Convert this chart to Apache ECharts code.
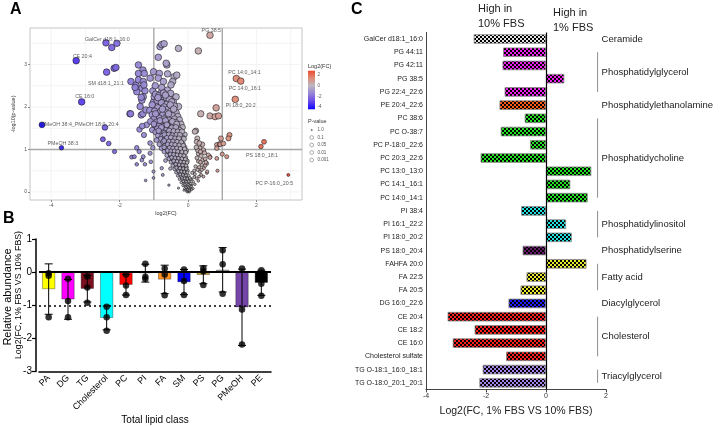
<!DOCTYPE html>
<html>
<head>
<meta charset="utf-8">
<script src="https://cdn.jsdelivr.net/npm/echarts@6/dist/echarts.min.js"></script>
<style>
  html, body { margin: 0; padding: 0; background: #fff; }
  #main { width: 720px; height: 426px; }
</style>
</head>
<body>
<div id="main"></div>
<script>
// ---- panel A: volcano, [log2(FC), -log10(p)] ----
const volcanoOuter = [
  [-4.27, 1.58], [-3.70, 1.04], [-3.27, 3.09], [-3.11, 2.12],
  [-2.40, 3.51], [-2.23, 3.40], [-2.08, 3.50],
  [-2.38, 2.82], [-2.16, 2.91], [-2.11, 2.93],
  [-2.43, 1.52], [-2.49, 1.24], [-2.32, 1.14], [-2.15, 0.95],
  [-1.70, 1.84], [-1.67, 2.60], [-1.65, 0.82], [-1.50, 1.04], [-1.57, 0.83], [-1.50, 0.65],
  [-1.31, 0.83], [-1.35, 0.75], [-1.43, 0.95], [-1.26, 0.65], [-1.24, 0.27], [-1.01, 0.33],
  [-1.01, 0.48], [-1.09, 0.71], [-1.42, 1.47], [-1.29, 1.34], [-1.11, 1.15], [-1.11, 0.91],
  [-1.37, 1.81], [-1.21, 1.58], [-1.34, 1.55], [-1.03, 1.04], [-0.74, 0.40], [-0.77, 0.56],
  [-0.56, 0.16], [-0.28, 0.09]
];
const volcanoUpper = [
  [-0.82, 3.42], [-0.77, 3.47], [-0.70, 3.49], [-0.28, 3.38], [0.30, 3.32], [-0.87, 3.17],
  [-1.45, 2.99], [-1.32, 2.87], [-1.45, 2.79], [-1.28, 2.79], [-1.01, 2.83], [-0.84, 2.79],
  [-0.62, 2.99], [-0.64, 3.03], [-0.60, 2.78], [-0.41, 2.71], [-0.33, 2.75], [-1.11, 2.68],
  [-0.87, 2.68], [-1.52, 2.52], [-1.45, 2.64], [-1.31, 2.60], [-1.35, 2.44], [-1.26, 2.38],
  [-1.03, 2.38], [-0.96, 2.50], [-0.77, 2.36], [-0.62, 2.32], [-0.53, 2.28], [-0.35, 2.24],
  [-0.43, 2.12], [-0.28, 2.01], [-0.72, 2.20], [-0.82, 2.12], [-1.01, 2.12], [-1.31, 2.24],
  [-1.35, 2.16], [-1.50, 2.36], [-1.29, 2.52], [-1.55, 2.46], [-1.37, 2.23], [-1.40, 2.01],
  [-1.68, 1.84], [-1.32, 1.84], [-1.23, 1.93], [-0.99, 2.24], [-0.77, 2.46], [-0.60, 2.40],
  [-0.51, 2.32], [-0.72, 2.60], [-0.45, 2.60], [-0.50, 2.52]
];
const volcanoRight = [
  [0.64, 3.69], [1.41, 2.67], [1.54, 2.61], [1.38, 2.18], [0.82, 1.98], [0.64, 1.79],
  [0.79, 1.77], [0.89, 1.79], [0.37, 1.84], [1.21, 1.34], [0.96, 1.26], [0.84, 1.11],
  [0.92, 1.13], [2.22, 1.18], [2.13, 1.07], [1.00, 0.89], [1.13, 0.83], [0.64, 0.83],
  [0.86, 0.50], [0.55, 0.45], [2.93, 0.40], [0.23, 1.44], [0.84, 1.03], [0.94, 1.12],
  [1.03, 1.14], [1.18, 1.26], [0.84, 0.79],
  [0.20, 1.42], [0.27, 1.26], [0.25, 1.18], [0.35, 1.03], [0.45, 0.99], [0.59, 0.87],
  [0.64, 0.81], [0.55, 0.67], [0.40, 0.64], [0.56, 0.48], [0.35, 0.48], [0.25, 0.32],
  [0.15, 0.24], [0.11, 0.16], [0.45, 0.36], [0.30, 0.90], [0.38, 0.85], [0.42, 0.75],
  [0.30, 0.72], [0.50, 0.78], [0.22, 0.60], [0.32, 0.58], [0.46, 0.56], [0.20, 0.42],
  [0.38, 0.40], [0.15, 0.08], [0.10, 0.30], [0.28, 0.98], [0.42, 1.12], [0.33, 1.15],
  [0.48, 0.92], [0.18, 0.50], [0.07, 0.30], [0.12, 0.45],
  [0.26, 0.80], [0.36, 0.70], [0.28, 0.52], [0.40, 0.52], [0.18, 0.35], [0.32, 0.36],
  [0.20, 0.18], [0.30, 0.26], [0.50, 0.62], [0.24, 1.05], [0.36, 0.95], [0.52, 0.70]
];
const volcanoCore = [
  [-0.95, 2.30], [-0.85, 2.27], [-0.72, 2.33], [-0.64, 2.22], [-0.55, 2.18], [-0.90, 2.15],
  [-0.78, 2.10], [-0.62, 2.06], [-0.48, 2.12], [-1.05, 2.05], [-0.70, 2.00], [-0.40, 2.02],
  [-0.88, 1.98], [-0.58, 1.95],
  [-1.12, 1.92], [-0.98, 1.90], [-0.80, 1.90], [-0.68, 1.88], [-0.50, 1.90], [-0.35, 1.87],
  [-1.05, 1.82], [-0.90, 1.80], [-0.74, 1.82], [-0.62, 1.78], [-0.46, 1.80], [-0.30, 1.78],
  [-0.84, 1.74], [-0.70, 1.72], [-0.56, 1.70], [-0.40, 1.72], [-1.00, 1.72], [-0.25, 1.70],
  [-1.10, 1.66], [-0.92, 1.65], [-0.78, 1.64], [-0.64, 1.63], [-0.50, 1.62], [-0.36, 1.64],
  [-0.20, 1.60], [-0.98, 1.57], [-0.85, 1.56], [-0.70, 1.55], [-0.58, 1.55], [-0.44, 1.56],
  [-0.30, 1.54], [-0.16, 1.52], [-0.90, 1.49], [-0.76, 1.48], [-0.63, 1.47], [-0.52, 1.48],
  [-0.38, 1.47], [-0.25, 1.46], [-1.05, 1.46],
  [-0.95, 1.41], [-0.82, 1.40], [-0.70, 1.39], [-0.58, 1.40], [-0.46, 1.38], [-0.33, 1.39],
  [-0.20, 1.37], [-0.10, 1.35], [-0.88, 1.33], [-0.75, 1.32], [-0.63, 1.31], [-0.52, 1.32],
  [-0.40, 1.30], [-0.28, 1.30], [-0.16, 1.28], [-0.80, 1.25], [-0.68, 1.24], [-0.56, 1.24],
  [-0.45, 1.23], [-0.34, 1.22], [-0.22, 1.22], [-0.92, 1.22],
  [-0.74, 1.17], [-0.62, 1.16], [-0.50, 1.16], [-0.38, 1.15], [-0.27, 1.14], [-0.15, 1.13],
  [-0.84, 1.12], [-0.68, 1.09], [-0.56, 1.08], [-0.44, 1.08], [-0.33, 1.07], [-0.21, 1.06],
  [-0.10, 1.05], [-0.78, 1.03], [-0.62, 1.01], [-0.50, 1.00], [-0.39, 1.00], [-0.28, 0.99],
  [-0.16, 0.98], [-0.05, 0.97],
  [-0.70, 0.95], [-0.56, 0.93], [-0.45, 0.92], [-0.34, 0.91], [-0.23, 0.90], [-0.12, 0.89],
  [-0.62, 0.86], [-0.50, 0.85], [-0.39, 0.84], [-0.29, 0.83], [-0.18, 0.82], [-0.07, 0.81],
  [-0.56, 0.78], [-0.44, 0.77], [-0.34, 0.76], [-0.24, 0.75], [-0.13, 0.74], [-0.02, 0.73],
  [-0.66, 0.74],
  [-0.50, 0.70], [-0.39, 0.69], [-0.29, 0.68], [-0.19, 0.67], [-0.09, 0.66], [-0.45, 0.62],
  [-0.34, 0.61], [-0.24, 0.60], [-0.14, 0.59], [-0.04, 0.58], [-0.40, 0.54], [-0.30, 0.53],
  [-0.20, 0.52], [-0.10, 0.51], [-0.01, 0.50], [-0.52, 0.55],
  [-0.35, 0.46], [-0.26, 0.45], [-0.16, 0.44], [-0.07, 0.43], [-0.30, 0.38], [-0.21, 0.37],
  [-0.12, 0.36], [-0.03, 0.35], [-0.25, 0.30], [-0.17, 0.29], [-0.08, 0.28], [0.00, 0.27],
  [-0.20, 0.22], [-0.12, 0.21], [-0.04, 0.20], [0.04, 0.22],
  [-0.15, 0.15], [-0.08, 0.14], [-0.01, 0.13], [0.05, 0.15], [-0.10, 0.08], [-0.03, 0.07],
  [0.03, 0.08], [0.08, 0.10], [-0.05, 0.03], [0.01, 0.02], [0.06, 0.04], [-0.12, 0.04],
  [0.00, 0.00], [0.04, 0.00], [-0.03, 0.00]
];
const volcanoCoreFill = [
  [-0.88, 2.22], [-0.66, 2.28], [-0.52, 2.05], [-0.75, 1.95], [-0.95, 1.84], [-0.57, 1.84],
  [-0.42, 1.95], [-0.82, 1.68], [-0.66, 1.68], [-0.46, 1.66], [-0.33, 1.60], [-1.00, 1.60],
  [-0.62, 1.58], [-0.78, 1.52], [-0.48, 1.51], [-0.36, 1.52], [-0.55, 1.44], [-0.42, 1.43],
  [-0.30, 1.42], [-0.18, 1.42], [-0.86, 1.44], [-0.68, 1.35], [-0.56, 1.35], [-0.46, 1.33],
  [-0.34, 1.34], [-0.24, 1.34], [-0.62, 1.27], [-0.50, 1.28], [-0.38, 1.26], [-0.27, 1.26],
  [-0.12, 1.25], [-0.70, 1.20], [-0.56, 1.19], [-0.44, 1.19], [-0.32, 1.18], [-0.20, 1.17],
  [-0.60, 1.12], [-0.48, 1.12], [-0.38, 1.11], [-0.26, 1.10], [-0.14, 1.09], [-0.70, 1.05],
  [-0.54, 1.04], [-0.44, 1.03], [-0.33, 1.03], [-0.22, 1.02], [-0.10, 1.01], [-0.60, 0.97],
  [-0.50, 0.96], [-0.40, 0.96], [-0.30, 0.95], [-0.18, 0.94], [-0.07, 0.93], [-0.52, 0.89],
  [-0.42, 0.88], [-0.32, 0.87], [-0.22, 0.86], [-0.12, 0.85], [-0.48, 0.81], [-0.38, 0.80],
  [-0.28, 0.79], [-0.18, 0.78], [-0.08, 0.77], [-0.42, 0.73], [-0.32, 0.72], [-0.22, 0.71],
  [-0.12, 0.70], [-0.03, 0.69], [-0.36, 0.65], [-0.26, 0.64], [-0.16, 0.63], [-0.06, 0.62],
  [-0.34, 0.57], [-0.24, 0.56], [-0.14, 0.55], [-0.05, 0.54], [-0.28, 0.49], [-0.20, 0.48],
  [-0.11, 0.47], [-0.02, 0.46], [-0.23, 0.41], [-0.15, 0.40], [-0.06, 0.39], [0.02, 0.38],
  [-0.18, 0.33], [-0.10, 0.32], [-0.02, 0.31], [0.05, 0.33], [-0.14, 0.25], [-0.06, 0.24],
  [0.02, 0.25], [0.08, 0.20], [-0.09, 0.18], [0.00, 0.17], [0.09, 0.13], [-0.06, 0.10],
  [0.02, 0.11], [0.05, 0.06], [-0.02, 0.05], [0.10, 0.05], [0.03, 0.03]
];
const volcanoLabels = [
  [-2.36, 3.59, 'GalCer d18:1_16:0'],
  [-3.09, 3.18, 'CE 20:4'],
  [-2.40, 2.56, 'SM d18:1_21:1'],
  [-3.02, 2.24, 'CE 16:0'],
  [-3.16, 1.58, 'PMeOH 38:4_PMeOH 18:0_20:4'],
  [-3.66, 1.13, 'PMeOH 38:3'],
  [0.68, 3.79, 'PG 38:5'],
  [1.65, 2.82, 'PC 14:0_14:1'],
  [1.66, 2.44, 'PC 14:0_16:1'],
  [1.54, 2.03, 'PI 18:0_20:2'],
  [2.16, 0.85, 'PS 18:0_18:1'],
  [2.52, 0.20, 'PC P-16:0_20:5']
];
const volcanoXTicks = [-4, -2, 0, 2];
const volcanoYTicks = [0, 1, 2, 3];
const volcanoVGrid = [-4, -3, -2, 0, 2, 3];
const volcanoHGrid = [0, 0.5, 1.5, 2, 2.5, 3, 3.5];
const fcCutoffs = [-1, 1];
const pCutoff = [1];
const fcLegendTicks = ['2', '0', '-2', '-4'];
const pLegendTicks = ['1.0', '0.1', '0.05', '0.01', '0.001'];

// ---- panel B: total lipid class ----
const lipidClasses = ['PA', 'DG', 'TG', 'Cholesterol', 'PC', 'PI', 'FA', 'SM', 'PS', 'PG', 'PMeOH', 'PE'];
const classMeans = [-0.51, -0.82, -0.50, -1.38, -0.38, -0.03, -0.22, -0.30, -0.08, 0.07, -1.06, -0.32];
const classSD = [0.76, 0.60, 0.40, 0.36, 0.31, 0.27, 0.43, 0.38, 0.27, 0.67, 1.15, 0.38];
const classReps = [
  [-0.03, -0.11, -1.36], [-0.20, -0.87, -1.36], [-0.13, -0.46, -0.92], [-1.04, -1.36, -1.77],
  [-0.07, -0.40, -0.69], [0.25, -0.21, -0.14], [0.11, -0.07, -0.70], [0.08, -0.27, -0.69],
  [0.12, 0.03, -0.39], [0.66, 0.24, -0.65], [0.11, -1.13, -2.18], [0.06, -0.35, -0.71]
];
const classColors = ['#ffff00', '#ff00ff', '#7a0f1e', '#00ffff', '#ff0000', '#9e9e9e',
  '#ff9222', '#0000ff', '#c8a232', '#9e9e9e', '#7446a8', '#000000'];

// ---- panel C: individual species ----
const species = ['GalCer d18:1_16:0', 'PG 44:11', 'PG 42:11', 'PG 38:5', 'PG 22:4_22:6',
  'PE 20:4_22:6', 'PC 38:6', 'PC O-38:7', 'PC P-18:0_22:6', 'PC 20:3_22:6', 'PC 13:0_13:0',
  'PC 14:1_16:1', 'PC 14:0_14:1', 'PI 38:4', 'PI 16:1_22:2', 'PI 18:0_20:2', 'PS 18:0_20:4',
  'FAHFA 20:0', 'FA 22:5', 'FA 20:5', 'DG 16:0_22:6', 'CE 20:4', 'CE 18:2', 'CE 16:0',
  'Cholesterol sulfate', 'TG O-18:1_16:0_18:1', 'TG O-18:0_20:1_20:1'];
const speciesFC = [-2.41, -1.43, -1.45, 0.61, -1.38, -1.55, -0.71, -1.51, -0.53, -2.18, 1.51,
  0.81, 1.39, -0.83, 0.67, 0.86, -0.78, 1.35, -0.65, -0.85, -1.25, -3.28, -2.38, -3.11, -1.33,
  -2.11, -2.22];
const classGroups = [
  ['Ceramide', 0, 0], ['Phosphatidylglycerol', 1, 4], ['Phosphatidylethanolamine', 5, 5],
  ['Phosphatidycholine', 6, 12], ['Phosphatidylinositol', 13, 15], ['Phosphatidylserine', 16, 16],
  ['Fatty acid', 17, 19], ['Diacylglycerol', 20, 20], ['Cholesterol', 21, 24],
  ['Triacylglycerol', 25, 26]
];
const groupColors = ['#e4e4e4', '#ee22ee', '#ff5a10', '#22e022', '#22e0e0', '#6a1a6a',
  '#e8e830', '#2020ff', '#ff2020', '#a584e6'];

// colour ramp for log2(FC), like ggplot gradient2 (blue - grey - red)
const fcStops = [-4.3, -2.86, -1.42, 0.02, 1.46, 2.9];
const fcColors = ['#1208ff', '#6a4ae8', '#9686d6', '#bcb6bf', '#df8a74', '#ee4a2e'];

function checker(color) {
  const c = document.createElement('canvas');
  c.width = 4;
  c.height = 4;
  const g = c.getContext('2d');
  g.fillStyle = color;
  g.fillRect(0, 0, 4, 4);
  g.fillStyle = '#000';
  g.fillRect(0, 0, 2, 2);
  g.fillRect(2, 2, 2, 2);
  return { image: c, repeat: 'repeat' };
}

const volcanoData = volcanoOuter.concat(volcanoUpper, volcanoRight, volcanoCore, volcanoCoreFill);

const gridLineData = [];
volcanoVGrid.forEach(v => gridLineData.push([v, 0, 0]));
volcanoHGrid.forEach(v => gridLineData.push([0, v, 1]));
fcCutoffs.forEach(v => gridLineData.push([v, 0, 2]));
pCutoff.forEach(v => gridLineData.push([0, v, 3]));

const dotData = [];
classReps.forEach((reps, i) => reps.forEach(v => dotData.push([i, v])));

const groupOf = species.map((s, i) => classGroups.findIndex(g => i >= g[1] && i <= g[2]));

const chart = echarts.init(document.getElementById('main'), null, { renderer: 'canvas' });

const legendTop = 70.7, legendH = 38.6;
const gradTop = 2.8, gradBottom = -4.4;
const clamp01 = v => Math.max(0, Math.min(1, v));
const FONT = 'Liberation Sans, Arial, sans-serif';

const option = {
  animation: false,
  textStyle: { fontFamily: FONT },
  grid: [
    { left: 30, top: 28, width: 272, height: 172, show: true, borderColor: '#b5b5b5', borderWidth: 0.8 },
    { left: 39, top: 239, width: 232, height: 141 },
    { left: 426, top: 32.4, width: 180, height: 357 }
  ],
  xAxis: [
    {
      gridIndex: 0, type: 'value', min: -4.62, max: 3.33,
      axisLine: { show: false, onZero: false },
      axisTick: { show: true, length: 2, lineStyle: { color: '#888' }, customValues: volcanoXTicks },
      axisLabel: { fontSize: 5, color: '#555', margin: 3, customValues: volcanoXTicks },
      splitLine: { show: false },
      name: 'log2(FC)', nameLocation: 'middle', nameGap: 10,
      nameTextStyle: { fontSize: 5.5, color: '#333' }
    },
    {
      gridIndex: 1, type: 'category', data: lipidClasses,
      axisLine: { onZero: false, lineStyle: { color: '#000', width: 1.5 } },
      axisTick: { alignWithLabel: true, length: 4, lineStyle: { color: '#000', width: 1.2 } },
      axisLabel: { rotate: 45, fontSize: 9, color: '#000', margin: 5, interval: 0 },
      name: 'Total lipid class', nameLocation: 'middle', nameGap: 38,
      nameTextStyle: { fontSize: 10, color: '#000' }
    },
    {
      gridIndex: 2, type: 'value', min: -4, max: 2, interval: 2,
      axisLine: { show: true, onZero: false, lineStyle: { color: '#444' } },
      axisTick: { show: true, length: 3, lineStyle: { color: '#444' } },
      axisLabel: { fontSize: 7, color: '#333', margin: 3 },
      splitLine: { show: false },
      name: 'Log2(FC, 1% FBS VS 10% FBS)', nameLocation: 'middle', nameGap: 16,
      nameTextStyle: { fontSize: 10.5, color: '#222' }
    }
  ],
  yAxis: [
    {
      gridIndex: 0, type: 'value', min: -0.19, max: 3.86,
      axisLine: { show: false, onZero: false },
      axisTick: { show: true, length: 2, lineStyle: { color: '#888' }, customValues: volcanoYTicks },
      axisLabel: { fontSize: 5, color: '#555', margin: 3, customValues: volcanoYTicks },
      splitLine: { show: false },
      name: '-log10(p-value)', nameLocation: 'middle', nameGap: 14,
      nameTextStyle: { fontSize: 5.5, color: '#333' }
    },
    {
      gridIndex: 1, type: 'value', min: -3, max: 1, interval: 1, offset: 3,
      axisLine: { show: true, onZero: false, lineStyle: { color: '#000', width: 1.5 } },
      axisTick: { show: true, length: 4, lineStyle: { color: '#000', width: 1.2 } },
      axisLabel: { fontSize: 10, color: '#000', margin: 4 },
      splitLine: { show: false }
    },
    {
      gridIndex: 2, type: 'category', inverse: true, data: species,
      axisLine: { onZero: false, lineStyle: { color: '#444' } },
      axisTick: { alignWithLabel: true, length: 2.5, lineStyle: { color: '#444' } },
      axisLabel: { fontSize: 7, color: '#222', margin: 3, interval: 0 }
    }
  ],
  visualMap: {
    show: false, type: 'continuous', dimension: 0, seriesIndex: 1,
    min: fcStops[0], max: fcStops[fcStops.length - 1],
    inRange: { color: fcColors }
  },
  series: [
    {
      // panel A background grid + cutoff lines
      type: 'custom', xAxisIndex: 0, yAxisIndex: 0, silent: true, z: 0,
      data: gridLineData,
      renderItem(params, api) {
        const cs = params.coordSys;
        const kind = api.value(2);
        const p = api.coord([api.value(0), api.value(1)]);
        const thick = kind >= 2;
        const style = { stroke: thick ? '#a8a8a8' : '#ececec', lineWidth: thick ? 1.4 : 0.6 };
        if (kind === 0 || kind === 2) {
          return { type: 'line', shape: { x1: p[0], y1: cs.y, x2: p[0], y2: cs.y + cs.height }, style };
        }
        return { type: 'line', shape: { x1: cs.x, y1: p[1], x2: cs.x + cs.width, y2: p[1] }, style };
      }
    },
    {
      type: 'scatter', xAxisIndex: 0, yAxisIndex: 0, z: 2,
      data: volcanoData,
      symbolSize: v => 2 + 4.6 * Math.min(v[1], 1.9) / 1.9,
      itemStyle: { borderColor: '#111', borderWidth: 0.6, opacity: 0.95 }
    },
    {
      type: 'scatter', xAxisIndex: 0, yAxisIndex: 0, z: 3, symbolSize: 0, silent: true,
      data: volcanoLabels.map(l => ({ value: [l[0], l[1]], name: l[2] })),
      label: { show: true, position: 'inside', formatter: '{b}', fontSize: 5.3, color: '#333' }
    },
    {
      type: 'bar', xAxisIndex: 1, yAxisIndex: 1, barWidth: 13, z: 2,
      data: classMeans.map((v, i) => ({ value: v, itemStyle: { color: classColors[i] } })),
      itemStyle: { borderColor: 'rgba(0,0,0,0.55)', borderWidth: 0.6 },
      markLine: {
        silent: true, symbol: 'none', label: { show: false },
        data: [
          { yAxis: 0, lineStyle: { color: '#000', width: 2, type: 'solid' } },
          { yAxis: -1, lineStyle: { color: '#000', width: 1.5, type: [2, 3] } }
        ]
      }
    },
    {
      type: 'custom', xAxisIndex: 1, yAxisIndex: 1, z: 4, silent: true,
      data: classMeans.map((m, i) => [i, m - classSD[i], m + classSD[i]]),
      encode: { x: 0, y: [1, 2] },
      renderItem(params, api) {
        const i = api.value(0);
        const lo = api.coord([i, api.value(1)]);
        const hi = api.coord([i, api.value(2)]);
        const w = 4;
        const st = { stroke: '#000', lineWidth: 1 };
        return {
          type: 'group', children: [
            { type: 'line', shape: { x1: lo[0], y1: lo[1], x2: hi[0], y2: hi[1] }, style: st },
            { type: 'line', shape: { x1: lo[0] - w, y1: lo[1], x2: lo[0] + w, y2: lo[1] }, style: st },
            { type: 'line', shape: { x1: hi[0] - w, y1: hi[1], x2: hi[0] + w, y2: hi[1] }, style: st }
          ]
        };
      }
    },
    {
      type: 'scatter', xAxisIndex: 1, yAxisIndex: 1, z: 5, symbolSize: 6.5,
      data: dotData, itemStyle: { color: '#000' }
    },
    {
      type: 'bar', xAxisIndex: 2, yAxisIndex: 2, barWidth: 9.5, z: 2,
      data: speciesFC.map((v, i) => ({ value: v, itemStyle: { color: checker(groupColors[groupOf[i]]) } })),
      itemStyle: { borderColor: '#8a8a8a', borderWidth: 0.8 },
      markLine: {
        silent: true, symbol: 'none', label: { show: false },
        data: [{ xAxis: 0, lineStyle: { color: '#000', width: 1.2, type: 'solid' } }]
      }
    },
    {
      // class brackets and names to the right of panel C
      type: 'custom', xAxisIndex: 2, yAxisIndex: 2, z: 3, silent: true,
      data: classGroups.map(g => [0, g[1], g[2]]),
      encode: { x: 0, y: [1, 2] },
      renderItem(params, api) {
        const name = classGroups[params.dataIndex][0];
        const a = api.coord([1.72, api.value(1) - 0.42]);
        const b = api.coord([1.72, api.value(2) + 0.42]);
        const single = name === 'Phosphatidylethanolamine';
        return {
          type: 'group', children: [
            { type: 'line', shape: { x1: a[0], y1: a[1], x2: b[0], y2: b[1] },
              style: { stroke: single ? '#cfcfcf' : '#8d8d8d', lineWidth: 1 } },
            { type: 'text', x: a[0] + 4, y: (a[1] + b[1]) / 2,
              style: { text: name, fontSize: 9.5, fill: '#222', align: 'left', verticalAlign: 'middle',
                fontFamily: FONT } }
          ]
        };
      }
    }
  ],
  graphic: [
    { type: 'text', left: 10, top: 2, style: { text: 'A', fontSize: 16, fontWeight: 'bold', fill: '#000', fontFamily: FONT } },
    { type: 'text', left: 3, top: 211, style: { text: 'B', fontSize: 16, fontWeight: 'bold', fill: '#000', fontFamily: FONT } },
    { type: 'text', left: 351, top: 2, style: { text: 'C', fontSize: 16, fontWeight: 'bold', fill: '#000', fontFamily: FONT } },
    // panel B y title
    { type: 'text', x: 8, y: 297, rotation: Math.PI / 2,
      style: { text: 'Relative abundance', fontSize: 11, fill: '#000', align: 'center', verticalAlign: 'middle', fontFamily: FONT } },
    { type: 'text', x: 19, y: 295, rotation: Math.PI / 2,
      style: { text: 'Log2(FC, 1% FBS VS 10% FBS)', fontSize: 8.8, fill: '#000', align: 'center', verticalAlign: 'middle', fontFamily: FONT } },
    // panel C headers
    { type: 'text', left: 478, top: 1,
      style: { text: 'High in\n10% FBS', fontSize: 11, lineHeight: 15, fill: '#222', fontFamily: FONT } },
    { type: 'text', left: 553, top: 5,
      style: { text: 'High in\n1% FBS', fontSize: 11, lineHeight: 15, fill: '#222', fontFamily: FONT } },
    // panel A colour legend
    { type: 'text', left: 308, top: 63, style: { text: 'Log2(FC)', fontSize: 5.5, fill: '#333', fontFamily: FONT } },
    { type: 'rect', shape: { x: 308, y: legendTop, width: 7, height: legendH },
      style: { fill: new echarts.graphic.LinearGradient(0, 0, 0, 1,
        fcStops.map((v, i) => ({ offset: clamp01((gradTop - v) / (gradTop - gradBottom)), color: fcColors[i] })).reverse()) } },
    ...fcLegendTicks.map(t => ({
      type: 'text', x: 317.5, y: legendTop + (gradTop - Number(t)) / (gradTop - gradBottom) * legendH,
      style: { text: t, fontSize: 4.5, fill: '#555', verticalAlign: 'middle', fontFamily: FONT }
    })),
    { type: 'text', left: 308, top: 118, style: { text: 'P-value', fontSize: 5.5, fill: '#333', fontFamily: FONT } },
    ...pLegendTicks.map((t, i) => ({
      type: 'circle', shape: { cx: 311.7, cy: 130 + i * 7.5, r: i === 0 ? 0.7 : 1.9 },
      style: { fill: i === 0 ? '#555' : '#fff', stroke: '#777', lineWidth: 0.6 }
    })),
    ...pLegendTicks.map((t, i) => ({
      type: 'text', x: 317.5, y: 130 + i * 7.5,
      style: { text: t, fontSize: 4.5, fill: '#555', verticalAlign: 'middle', fontFamily: FONT }
    }))
  ]
};

chart.setOption(option);
</script>
</body>
</html>
